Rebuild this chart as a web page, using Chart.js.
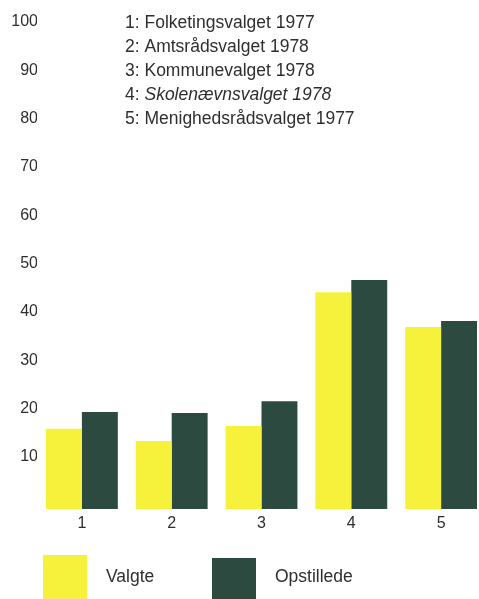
<!DOCTYPE html>
<html>
<head>
<meta charset="utf-8">
<script src="https://cdn.jsdelivr.net/npm/chart.js@4"></script>
<style>
  html, body { margin: 0; padding: 0; overflow: hidden; background: #fff; }
</style>
</head>
<body>
<canvas id="myChart" width="486" height="599"></canvas>
<script>
// data
var categories = ['1', '2', '3', '4', '5'];
var valgte = [16.6, 14.1, 17.2, 44.9, 37.7];
var opstillede = [20.1, 19.9, 22.3, 47.4, 38.9];
var seriesNames = ['Valgte', 'Opstillede'];
var yTicks = [10, 20, 30, 40, 50, 60, 70, 80, 90, 100];
var noteLines = [
  '1: Folketingsvalget 1977',
  '2: Amtsrådsvalget 1978',
  '3: Kommunevalget 1978',
  '4: Skolenævnsvalget 1978',
  '5: Menighedsrådsvalget 1977'
];

const YELLOW = '#f6f13a';
const GREEN = '#2c4a40';
const TEXT = '#2e2e2e';
const FONT = '"Liberation Sans", Arial, sans-serif';

const ctx = document.getElementById('myChart');

// notes at the top and the legend at the bottom
const notesPlugin = {
  id: 'notes',
  afterDraw: function (chart) {
    let c = chart.ctx;
    c.save();
    c.textBaseline = 'middle';
    c.fillStyle = TEXT;
    noteLines.forEach(function (t, i) {
      let y = 23 + i * 24;
      if (i === 3) {
        // "Skolenævnsvalget 1978" is set in italics
        let pre = t.slice(0, 3);
        c.font = '17.5px ' + FONT;
        c.fillText(pre, 125, y);
        let w = c.measureText(pre).width;
        c.font = 'italic 17.5px ' + FONT;
        c.fillText(t.slice(3), 125 + w, y);
      } else {
        c.font = '17.5px ' + FONT;
        c.fillText(t, 125, y);
      }
    });

    let boxX = [43, 212];
    let boxY = [555, 558];
    let textX = [106, 275];
    c.font = '17.5px ' + FONT;
    chart.data.datasets.forEach(function (ds, i) {
      c.fillStyle = ds.backgroundColor;
      c.fillRect(boxX[i], boxY[i], 44, 50);
      c.fillStyle = TEXT;
      c.fillText(ds.label, textX[i], 577);
    });
    c.restore();
  }
};

new Chart(ctx, {
  type: 'bar',
  data: {
    labels: categories,
    datasets: [
      {
        label: seriesNames[0],
        data: valgte,
        backgroundColor: YELLOW,
        borderWidth: 0,
      },
      {
        label: seriesNames[1],
        data: opstillede,
        backgroundColor: GREEN,
        borderWidth: 0,
      },
    ],
  },
  options: {
    responsive: false,
    animation: false,
    devicePixelRatio: 1,
    categoryPercentage: 0.8,
    barPercentage: 1.0,
    layout: {
      padding: { top: 26, left: 0, right: 0, bottom: 0 },
    },
    plugins: {
      legend: { display: false },
      tooltip: { enabled: false },
    },
    scales: {
      x: {
        grid: { display: false },
        border: { display: false },
        ticks: {
          color: TEXT,
          font: { family: FONT, size: 16 },
          padding: -3,
        },
        afterFit: function (scale) {
          scale.height = 90;
        },
      },
      y: {
        min: 0,
        max: 100,
        grid: { display: false },
        border: { display: false },
        afterBuildTicks: function (scale) {
          scale.ticks = yTicks.map(function (v) { return { value: v }; });
        },
        ticks: {
          color: TEXT,
          font: { family: FONT, size: 16 },
          padding: -9,
          labelOffset: -4,
        },
        afterFit: function (scale) {
          scale.width = 37;
        },
      },
    },
  },
  plugins: [notesPlugin],
});
</script>
</body>
</html>
